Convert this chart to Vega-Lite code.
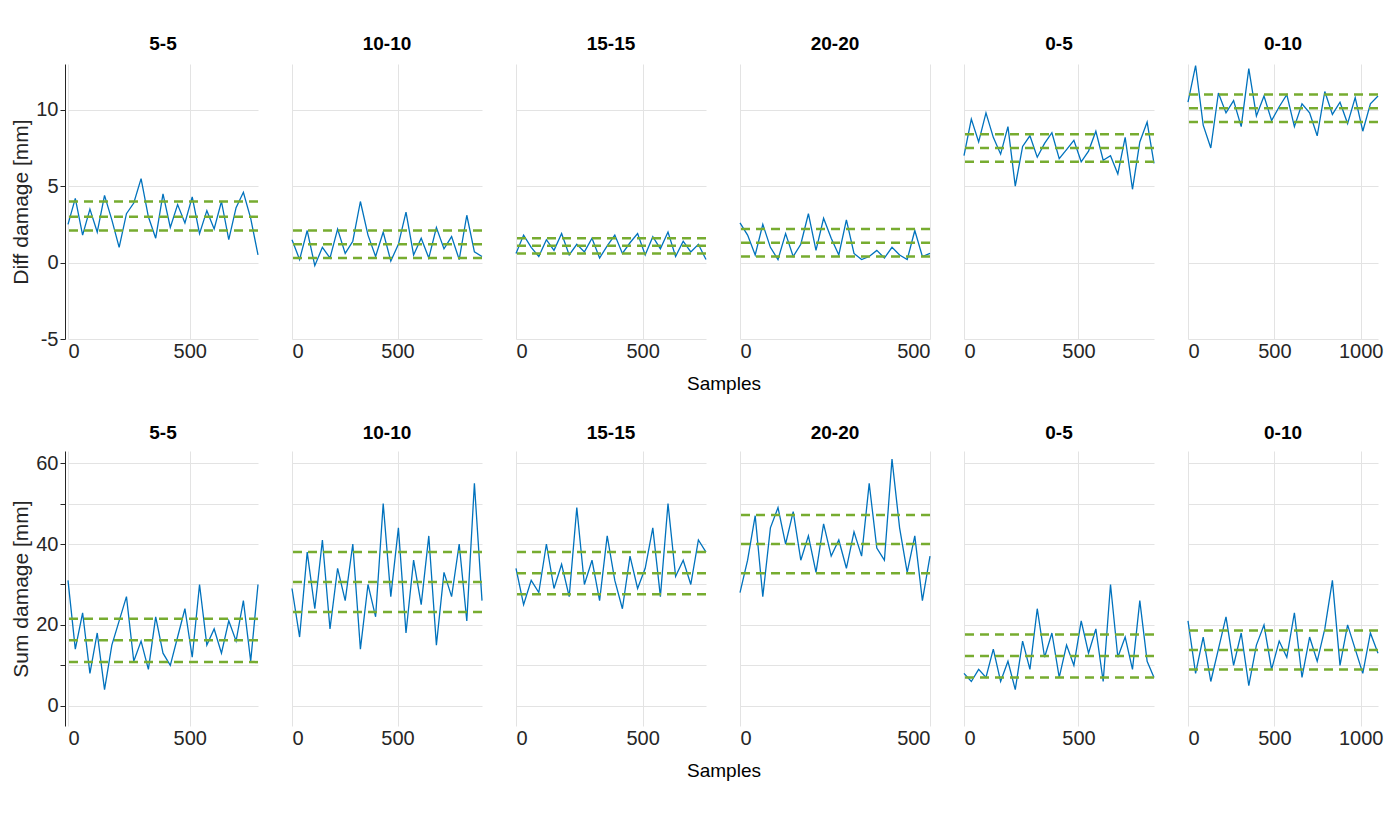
{
"$schema":"https://vega.github.io/schema/vega-lite/v6.json",
"background":"white",
"padding":{"left":10,"top":35,"right":20,"bottom":5},
"config":{
 "font":"Liberation Sans",
 "view":{"stroke":null},
 "axis":{"labelFont":"Liberation Sans","titleFont":"Liberation Sans","labelFontSize":20,"titleFontSize":21,"titleFontWeight":"normal","labelColor":"#262626","titleColor":"#262626","gridColor":"#e3e3e3","domainColor":"#262626","tickColor":"#262626","tickSize":5,"labelExpr":"'' + datum.value"},
 "axisX":{"domain":false,"tickSize":0},
 "header":{"labelFont":"Liberation Sans","titleFont":"Liberation Sans","labelFontSize":19,"labelFontWeight":"bold","titleFontSize":19,"titleFontWeight":"normal","labelColor":"#000","titleColor":"#000"}
},
"spacing":30,
"vconcat":[
{
 "data":{"values":[
{"p":"5-5","x":0,"v":2.5},{"p":"5-5","x":30,"v":4.2},{"p":"5-5","x":60,"v":1.8},{"p":"5-5","x":90,"v":3.5},{"p":"5-5","x":120,"v":2.0},{"p":"5-5","x":150,"v":4.4},{"p":"5-5","x":180,"v":2.8},{"p":"5-5","x":210,"v":1.0},{"p":"5-5","x":240,"v":3.2},{"p":"5-5","x":270,"v":3.9},{"p":"5-5","x":300,"v":5.5},{"p":"5-5","x":330,"v":3.0},{"p":"5-5","x":360,"v":1.6},{"p":"5-5","x":390,"v":4.5},{"p":"5-5","x":420,"v":2.3},{"p":"5-5","x":450,"v":3.8},{"p":"5-5","x":480,"v":2.6},{"p":"5-5","x":510,"v":4.3},{"p":"5-5","x":540,"v":1.9},{"p":"5-5","x":570,"v":3.4},{"p":"5-5","x":600,"v":2.2},{"p":"5-5","x":630,"v":4.0},{"p":"5-5","x":660,"v":1.5},{"p":"5-5","x":690,"v":3.6},{"p":"5-5","x":720,"v":4.6},{"p":"5-5","x":750,"v":2.9},{"p":"5-5","x":780,"v":0.5},
{"p":"10-10","x":0,"v":1.5},{"p":"10-10","x":36,"v":0.2},{"p":"10-10","x":72,"v":2.1},{"p":"10-10","x":108,"v":-0.2},{"p":"10-10","x":144,"v":1.0},{"p":"10-10","x":180,"v":0.3},{"p":"10-10","x":216,"v":2.2},{"p":"10-10","x":252,"v":0.6},{"p":"10-10","x":288,"v":1.4},{"p":"10-10","x":324,"v":4.0},{"p":"10-10","x":360,"v":1.8},{"p":"10-10","x":396,"v":0.4},{"p":"10-10","x":432,"v":2.0},{"p":"10-10","x":468,"v":0.1},{"p":"10-10","x":504,"v":1.2},{"p":"10-10","x":540,"v":3.3},{"p":"10-10","x":576,"v":0.5},{"p":"10-10","x":612,"v":1.6},{"p":"10-10","x":648,"v":0.3},{"p":"10-10","x":684,"v":2.3},{"p":"10-10","x":720,"v":0.9},{"p":"10-10","x":756,"v":1.7},{"p":"10-10","x":792,"v":0.2},{"p":"10-10","x":828,"v":3.1},{"p":"10-10","x":864,"v":0.7},{"p":"10-10","x":900,"v":0.4},
{"p":"15-15","x":0,"v":0.6},{"p":"15-15","x":30,"v":1.8},{"p":"15-15","x":60,"v":1.0},{"p":"15-15","x":90,"v":0.4},{"p":"15-15","x":120,"v":1.5},{"p":"15-15","x":150,"v":0.8},{"p":"15-15","x":180,"v":1.9},{"p":"15-15","x":210,"v":0.5},{"p":"15-15","x":240,"v":1.2},{"p":"15-15","x":270,"v":0.7},{"p":"15-15","x":300,"v":1.6},{"p":"15-15","x":330,"v":0.3},{"p":"15-15","x":360,"v":1.1},{"p":"15-15","x":390,"v":1.8},{"p":"15-15","x":420,"v":0.6},{"p":"15-15","x":450,"v":1.3},{"p":"15-15","x":480,"v":1.9},{"p":"15-15","x":510,"v":0.5},{"p":"15-15","x":540,"v":1.7},{"p":"15-15","x":570,"v":0.9},{"p":"15-15","x":600,"v":2.0},{"p":"15-15","x":630,"v":0.4},{"p":"15-15","x":660,"v":1.4},{"p":"15-15","x":690,"v":0.7},{"p":"15-15","x":720,"v":1.2},{"p":"15-15","x":750,"v":0.2},
{"p":"20-20","x":0,"v":2.6},{"p":"20-20","x":20,"v":1.8},{"p":"20-20","x":40,"v":0.5},{"p":"20-20","x":60,"v":2.5},{"p":"20-20","x":80,"v":1.0},{"p":"20-20","x":100,"v":0.2},{"p":"20-20","x":120,"v":1.9},{"p":"20-20","x":140,"v":0.4},{"p":"20-20","x":160,"v":1.2},{"p":"20-20","x":180,"v":3.2},{"p":"20-20","x":200,"v":0.8},{"p":"20-20","x":220,"v":2.9},{"p":"20-20","x":240,"v":1.6},{"p":"20-20","x":260,"v":0.5},{"p":"20-20","x":280,"v":2.8},{"p":"20-20","x":300,"v":0.6},{"p":"20-20","x":320,"v":0.2},{"p":"20-20","x":340,"v":0.4},{"p":"20-20","x":360,"v":0.8},{"p":"20-20","x":380,"v":0.3},{"p":"20-20","x":400,"v":1.0},{"p":"20-20","x":420,"v":0.5},{"p":"20-20","x":440,"v":0.2},{"p":"20-20","x":460,"v":2.1},{"p":"20-20","x":480,"v":0.4},{"p":"20-20","x":500,"v":0.6},
{"p":"0-5","x":0,"v":7.0},{"p":"0-5","x":32,"v":9.4},{"p":"0-5","x":64,"v":7.9},{"p":"0-5","x":96,"v":9.8},{"p":"0-5","x":128,"v":8.2},{"p":"0-5","x":160,"v":7.1},{"p":"0-5","x":192,"v":8.9},{"p":"0-5","x":224,"v":5.0},{"p":"0-5","x":256,"v":7.6},{"p":"0-5","x":288,"v":8.3},{"p":"0-5","x":320,"v":6.9},{"p":"0-5","x":352,"v":7.8},{"p":"0-5","x":384,"v":8.5},{"p":"0-5","x":416,"v":6.8},{"p":"0-5","x":448,"v":7.4},{"p":"0-5","x":480,"v":8.0},{"p":"0-5","x":512,"v":6.6},{"p":"0-5","x":544,"v":7.3},{"p":"0-5","x":576,"v":8.6},{"p":"0-5","x":608,"v":6.7},{"p":"0-5","x":640,"v":7.0},{"p":"0-5","x":672,"v":5.8},{"p":"0-5","x":704,"v":8.2},{"p":"0-5","x":736,"v":4.8},{"p":"0-5","x":768,"v":7.9},{"p":"0-5","x":800,"v":9.2},{"p":"0-5","x":830,"v":6.5},
{"p":"0-10","x":0,"v":10.5},{"p":"0-10","x":44,"v":12.9},{"p":"0-10","x":88,"v":9.0},{"p":"0-10","x":132,"v":7.5},{"p":"0-10","x":176,"v":11.1},{"p":"0-10","x":220,"v":9.8},{"p":"0-10","x":264,"v":10.6},{"p":"0-10","x":308,"v":8.9},{"p":"0-10","x":352,"v":12.7},{"p":"0-10","x":396,"v":9.6},{"p":"0-10","x":440,"v":10.9},{"p":"0-10","x":484,"v":9.3},{"p":"0-10","x":528,"v":10.2},{"p":"0-10","x":572,"v":11.0},{"p":"0-10","x":616,"v":8.9},{"p":"0-10","x":660,"v":10.4},{"p":"0-10","x":704,"v":9.8},{"p":"0-10","x":748,"v":8.3},{"p":"0-10","x":792,"v":11.2},{"p":"0-10","x":836,"v":9.7},{"p":"0-10","x":880,"v":10.5},{"p":"0-10","x":924,"v":9.1},{"p":"0-10","x":968,"v":10.8},{"p":"0-10","x":1012,"v":8.6},{"p":"0-10","x":1056,"v":10.4},{"p":"0-10","x":1100,"v":10.9},
{"p":"5-5","k":"m","v":2.1},{"p":"5-5","k":"m","v":3.0},{"p":"5-5","k":"m","v":4.0},
{"p":"10-10","k":"m","v":0.3},{"p":"10-10","k":"m","v":1.2},{"p":"10-10","k":"m","v":2.1},
{"p":"15-15","k":"m","v":0.6},{"p":"15-15","k":"m","v":1.1},{"p":"15-15","k":"m","v":1.6},
{"p":"20-20","k":"m","v":0.4},{"p":"20-20","k":"m","v":1.3},{"p":"20-20","k":"m","v":2.2},
{"p":"0-5","k":"m","v":6.6},{"p":"0-5","k":"m","v":7.5},{"p":"0-5","k":"m","v":8.4},
{"p":"0-10","k":"m","v":9.2},{"p":"0-10","k":"m","v":10.1},{"p":"0-10","k":"m","v":11.0}
 ]},
 "facet":{"column":{"field":"p","sort":["5-5","10-10","15-15","20-20","0-5","0-10"],"title":"Samples","header":{"titleOrient":"bottom","labelOrient":"top","labelPadding":8,"titlePadding":4}}},
 "spacing":28,
 "resolve":{"scale":{"x":"independent"},"axis":{"x":"independent"}},
 "spec":{"width":190,"height":275,
  "layer":[
   {"transform":[{"filter":"datum.k!='m'"}],"mark":{"type":"line","color":"#0072BD","strokeWidth":1.3},
    "encoding":{"x":{"field":"x","type":"quantitative","title":null,"scale":{"nice":false},"axis":{"values":[0,500,1000]}},
     "y":{"field":"v","type":"quantitative","title":"Diff damage [mm]","scale":{"domain":[-5,13],"nice":false},"axis":{"values":[-5,0,5,10]}}}},
   {"transform":[{"filter":"datum.k=='m'"}],"mark":{"type":"rule","color":"#77AC30","strokeWidth":2.5,"strokeDash":[9,6]},
    "encoding":{"y":{"field":"v","type":"quantitative"}}}
  ]}
},
{
 "data":{"values":[
{"p":"5-5","x":0,"v":31},{"p":"5-5","x":30,"v":14},{"p":"5-5","x":60,"v":23},{"p":"5-5","x":90,"v":8},{"p":"5-5","x":120,"v":18},{"p":"5-5","x":150,"v":4},{"p":"5-5","x":180,"v":15},{"p":"5-5","x":210,"v":21},{"p":"5-5","x":240,"v":27},{"p":"5-5","x":270,"v":11},{"p":"5-5","x":300,"v":16},{"p":"5-5","x":330,"v":9},{"p":"5-5","x":360,"v":22},{"p":"5-5","x":390,"v":13},{"p":"5-5","x":420,"v":10},{"p":"5-5","x":450,"v":17},{"p":"5-5","x":480,"v":24},{"p":"5-5","x":510,"v":12},{"p":"5-5","x":540,"v":30},{"p":"5-5","x":570,"v":15},{"p":"5-5","x":600,"v":19},{"p":"5-5","x":630,"v":13},{"p":"5-5","x":660,"v":21},{"p":"5-5","x":690,"v":16},{"p":"5-5","x":720,"v":26},{"p":"5-5","x":750,"v":11},{"p":"5-5","x":780,"v":30},
{"p":"10-10","x":0,"v":29},{"p":"10-10","x":36,"v":17},{"p":"10-10","x":72,"v":38},{"p":"10-10","x":108,"v":24},{"p":"10-10","x":144,"v":41},{"p":"10-10","x":180,"v":19},{"p":"10-10","x":216,"v":34},{"p":"10-10","x":252,"v":26},{"p":"10-10","x":288,"v":40},{"p":"10-10","x":324,"v":14},{"p":"10-10","x":360,"v":30},{"p":"10-10","x":396,"v":22},{"p":"10-10","x":432,"v":50},{"p":"10-10","x":468,"v":27},{"p":"10-10","x":504,"v":44},{"p":"10-10","x":540,"v":18},{"p":"10-10","x":576,"v":36},{"p":"10-10","x":612,"v":25},{"p":"10-10","x":648,"v":42},{"p":"10-10","x":684,"v":15},{"p":"10-10","x":720,"v":33},{"p":"10-10","x":756,"v":27},{"p":"10-10","x":792,"v":40},{"p":"10-10","x":828,"v":21},{"p":"10-10","x":864,"v":55},{"p":"10-10","x":900,"v":26},
{"p":"15-15","x":0,"v":34},{"p":"15-15","x":30,"v":25},{"p":"15-15","x":60,"v":31},{"p":"15-15","x":90,"v":28},{"p":"15-15","x":120,"v":40},{"p":"15-15","x":150,"v":29},{"p":"15-15","x":180,"v":35},{"p":"15-15","x":210,"v":27},{"p":"15-15","x":240,"v":49},{"p":"15-15","x":270,"v":30},{"p":"15-15","x":300,"v":36},{"p":"15-15","x":330,"v":26},{"p":"15-15","x":360,"v":42},{"p":"15-15","x":390,"v":31},{"p":"15-15","x":420,"v":24},{"p":"15-15","x":450,"v":37},{"p":"15-15","x":480,"v":29},{"p":"15-15","x":510,"v":34},{"p":"15-15","x":540,"v":44},{"p":"15-15","x":570,"v":27},{"p":"15-15","x":600,"v":50},{"p":"15-15","x":630,"v":32},{"p":"15-15","x":660,"v":36},{"p":"15-15","x":690,"v":30},{"p":"15-15","x":720,"v":41},{"p":"15-15","x":750,"v":38},
{"p":"20-20","x":0,"v":28},{"p":"20-20","x":20,"v":36},{"p":"20-20","x":40,"v":47},{"p":"20-20","x":60,"v":27},{"p":"20-20","x":80,"v":44},{"p":"20-20","x":100,"v":49},{"p":"20-20","x":120,"v":40},{"p":"20-20","x":140,"v":48},{"p":"20-20","x":160,"v":36},{"p":"20-20","x":180,"v":42},{"p":"20-20","x":200,"v":33},{"p":"20-20","x":220,"v":45},{"p":"20-20","x":240,"v":37},{"p":"20-20","x":260,"v":41},{"p":"20-20","x":280,"v":34},{"p":"20-20","x":300,"v":43},{"p":"20-20","x":320,"v":37},{"p":"20-20","x":340,"v":55},{"p":"20-20","x":360,"v":39},{"p":"20-20","x":380,"v":36},{"p":"20-20","x":400,"v":61},{"p":"20-20","x":420,"v":44},{"p":"20-20","x":440,"v":33},{"p":"20-20","x":460,"v":42},{"p":"20-20","x":480,"v":26},{"p":"20-20","x":500,"v":37},
{"p":"0-5","x":0,"v":8},{"p":"0-5","x":32,"v":6},{"p":"0-5","x":64,"v":9},{"p":"0-5","x":96,"v":7},{"p":"0-5","x":128,"v":14},{"p":"0-5","x":160,"v":6},{"p":"0-5","x":192,"v":11},{"p":"0-5","x":224,"v":4},{"p":"0-5","x":256,"v":16},{"p":"0-5","x":288,"v":9},{"p":"0-5","x":320,"v":24},{"p":"0-5","x":352,"v":12},{"p":"0-5","x":384,"v":18},{"p":"0-5","x":416,"v":7},{"p":"0-5","x":448,"v":15},{"p":"0-5","x":480,"v":10},{"p":"0-5","x":512,"v":21},{"p":"0-5","x":544,"v":13},{"p":"0-5","x":576,"v":19},{"p":"0-5","x":608,"v":6},{"p":"0-5","x":640,"v":30},{"p":"0-5","x":672,"v":12},{"p":"0-5","x":704,"v":17},{"p":"0-5","x":736,"v":9},{"p":"0-5","x":768,"v":26},{"p":"0-5","x":800,"v":11},{"p":"0-5","x":830,"v":7},
{"p":"0-10","x":0,"v":21},{"p":"0-10","x":44,"v":8},{"p":"0-10","x":88,"v":17},{"p":"0-10","x":132,"v":6},{"p":"0-10","x":176,"v":14},{"p":"0-10","x":220,"v":22},{"p":"0-10","x":264,"v":10},{"p":"0-10","x":308,"v":18},{"p":"0-10","x":352,"v":5},{"p":"0-10","x":396,"v":15},{"p":"0-10","x":440,"v":20},{"p":"0-10","x":484,"v":9},{"p":"0-10","x":528,"v":16},{"p":"0-10","x":572,"v":12},{"p":"0-10","x":616,"v":23},{"p":"0-10","x":660,"v":7},{"p":"0-10","x":704,"v":17},{"p":"0-10","x":748,"v":11},{"p":"0-10","x":792,"v":19},{"p":"0-10","x":836,"v":31},{"p":"0-10","x":880,"v":10},{"p":"0-10","x":924,"v":20},{"p":"0-10","x":968,"v":14},{"p":"0-10","x":1012,"v":8},{"p":"0-10","x":1056,"v":18},{"p":"0-10","x":1100,"v":13},
{"p":"5-5","k":"m","v":10.8},{"p":"5-5","k":"m","v":16.2},{"p":"5-5","k":"m","v":21.5},
{"p":"10-10","k":"m","v":23.2},{"p":"10-10","k":"m","v":30.6},{"p":"10-10","k":"m","v":38},
{"p":"15-15","k":"m","v":27.6},{"p":"15-15","k":"m","v":32.8},{"p":"15-15","k":"m","v":38},
{"p":"20-20","k":"m","v":32.8},{"p":"20-20","k":"m","v":40},{"p":"20-20","k":"m","v":47.2},
{"p":"0-5","k":"m","v":7},{"p":"0-5","k":"m","v":12.3},{"p":"0-5","k":"m","v":17.6},
{"p":"0-10","k":"m","v":9},{"p":"0-10","k":"m","v":13.8},{"p":"0-10","k":"m","v":18.6}
 ]},
 "facet":{"column":{"field":"p","sort":["5-5","10-10","15-15","20-20","0-5","0-10"],"title":"Samples","header":{"titleOrient":"bottom","labelOrient":"top","labelPadding":8,"titlePadding":4}}},
 "spacing":28,
 "resolve":{"scale":{"x":"independent"},"axis":{"x":"independent"}},
 "spec":{"width":190,"height":275,
  "layer":[
   {"transform":[{"filter":"datum.k!='m'"}],"mark":{"type":"line","color":"#0072BD","strokeWidth":1.3},
    "encoding":{"x":{"field":"x","type":"quantitative","title":null,"scale":{"nice":false},"axis":{"values":[0,500,1000]}},
     "y":{"field":"v","type":"quantitative","title":"Sum damage [mm]","scale":{"domain":[-5,63],"nice":false},"axis":{"values":[0,10,20,30,40,50,60],"labelExpr":"datum.value % 20 == 0 ? '' + datum.value : ''"}}}},
   {"transform":[{"filter":"datum.k=='m'"}],"mark":{"type":"rule","color":"#77AC30","strokeWidth":2.5,"strokeDash":[9,6]},
    "encoding":{"y":{"field":"v","type":"quantitative"}}}
  ]}
}
]
}
